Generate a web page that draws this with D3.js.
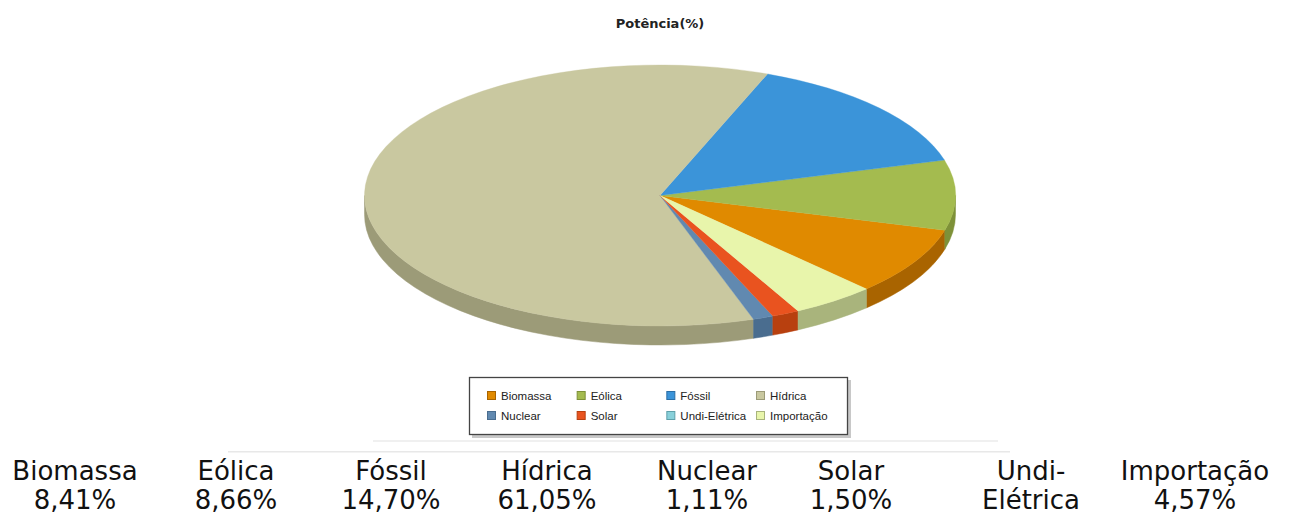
<!DOCTYPE html>
<html>
<head>
<meta charset="utf-8">
<script src="https://cdn.jsdelivr.net/npm/d3@7"></script>
<style>
  body { margin: 0; background: #fff; }
</style>
</head>
<body>
<svg id="svg"></svg>
<script>
var w = 1295;
var h = 513;

// data
var categories = ["Biomassa", "Eólica", "Fóssil", "Hídrica", "Nuclear", "Solar", "Undi-Elétrica", "Importação"];
var values = [8.41, 8.66, 14.70, 61.05, 1.11, 1.50, 0, 4.57];
var tableNames = [["Biomassa"], ["Eólica"], ["Fóssil"], ["Hídrica"], ["Nuclear"], ["Solar"], ["Undi-", "Elétrica"], ["Importação"]];
var topColors = ["#e08a00", "#a4bb4f", "#3b94d9", "#c9c8a0", "#6189b0", "#e9531f", "#88d0da", "#e8f5ab"];
var sideColors = ["#a96400", "#7e9138", "#2a6ea6", "#9c9b78", "#4a6d8f", "#b8400f", "#5fa0aa", "#a9b47c"];

var title = "Potência(%)";

// pie geometry
var cx = 660, cy = 195.5, rx = 295.5, ry = 130.5, depth = 19;
var start = 135.7 * Math.PI / 180;

var ptFmt = d3.formatLocale({decimal: ",", thousands: ".", grouping: [3], currency: ["", ""]}).format(".2f");

var svg = d3.select("#svg")
    .attr("width", w)
    .attr("height", h)
    .style("font-family", "'DejaVu Sans', sans-serif");

svg.append("text")
    .attr("x", 660)
    .attr("y", 28)
    .attr("text-anchor", "middle")
    .style("font-size", "13px")
    .style("font-weight", "bold")
    .attr("fill", "#222")
    .text(title);

var pie = d3.pie().sort(null).value(function(d) { return d; })
    .startAngle(start).endAngle(start - 2 * Math.PI);
var slices = pie(values);

var P = function(t, dy) {
    return [cx + rx * Math.sin(t), cy - ry * Math.cos(t) + (dy || 0)];
}

// outer wall, only the front half shows
var wallPath = function(d) {
    var a = Math.min(d.startAngle, d.endAngle), b = Math.max(d.startAngle, d.endAngle);
    var out = "";
    for (var k = -1; k <= 1; k++) {
        var lo = Math.max(a, Math.PI / 2 + 2 * Math.PI * k);
        var hi = Math.min(b, 3 * Math.PI / 2 + 2 * Math.PI * k);
        if (hi - lo <= 0) continue;
        var large = (hi - lo) > Math.PI ? 1 : 0;
        var p0 = P(lo), p1 = P(hi), q1 = P(hi, depth), q0 = P(lo, depth);
        out += "M" + p0 + "A" + [rx, ry, 0, large, 1] + " " + p1 +
               "L" + q1 + "A" + [rx, ry, 0, large, 0] + " " + q0 + "Z";
    }
    return out;
}

var chart = svg.append("g").attr("class", "pie");

chart.selectAll("path.wall")
    .data(slices)
    .enter().append("path")
    .attr("class", "wall")
    .attr("d", wallPath)
    .attr("fill", function(d, i) { return sideColors[i]; })
    .attr("stroke", function(d, i) { return sideColors[i]; })
    .attr("stroke-width", 0.5);

var arc = d3.arc().innerRadius(0).outerRadius(rx);

chart.append("g")
    .attr("transform", "translate(" + [cx, cy] + ")scale(1," + (ry / rx) + ")")
    .selectAll("path.top")
    .data(slices)
    .enter().append("path")
    .attr("class", "top")
    .attr("d", arc)
    .attr("fill", function(d, i) { return topColors[i]; })
    .attr("stroke", function(d, i) { return d.value > 0 ? topColors[i] : "none"; })
    .attr("stroke-width", 0.5);

// legend
var lg = svg.append("g").attr("class", "legend");
lg.append("rect")
    .attr("x", 472).attr("y", 380).attr("width", 379).attr("height", 58)
    .attr("fill", "#c8c8c8");
lg.append("rect")
    .attr("x", 469.5).attr("y", 377.5).attr("width", 378).attr("height", 57)
    .attr("fill", "#fff").attr("stroke", "#444").attr("stroke-width", 1.3);

var lx = d3.scalePoint().domain([0, 1, 2, 3]).range([487, 756]);
var ly = d3.scalePoint().domain([0, 1]).range([391, 411]);

var items = lg.selectAll("g.item")
    .data(categories)
    .enter().append("g")
    .attr("class", "item")
    .attr("transform", function(d, i) { return "translate(" + [lx(i % 4), ly(Math.floor(i / 4))] + ")"; });

items.append("rect")
    .attr("x", 0.5).attr("y", 0.5).attr("width", 8).attr("height", 8)
    .attr("fill", function(d, i) { return topColors[i]; })
    .attr("stroke", function(d, i) { return sideColors[i]; });

items.append("text")
    .attr("x", 14).attr("y", 8.5)
    .style("font-family", "'Liberation Sans', Arial, sans-serif")
    .style("font-size", "11.5px")
    .attr("fill", "#222")
    .text(function(d) { return d; });

// faint separator lines
svg.append("rect").attr("x", 373).attr("y", 440).attr("width", 625).attr("height", 2).attr("fill", "#f0f0f0");
svg.append("rect").attr("x", 228).attr("y", 451).attr("width", 782).attr("height", 1.5).attr("fill", "#e8e8e8");

// table underneath
var colX = d3.scaleOrdinal().domain(categories).range([75, 236, 391, 547, 707, 851, 1031, 1195]);

var cells = svg.selectAll("text.cell")
    .data(categories)
    .enter().append("text")
    .attr("class", "cell")
    .attr("text-anchor", "middle")
    .attr("x", function(d) { return colX(d); })
    .attr("y", 480)
    .style("font-size", "26px")
    .attr("fill", "#111");

cells.each(function(d, i) {
    var lines = tableNames[i].slice();
    if (values[i] > 0) lines.push(ptFmt(values[i]) + "%");
    d3.select(this).selectAll("tspan")
        .data(lines)
        .enter().append("tspan")
        .attr("x", colX(d))
        .attr("dy", function(l, j) { return j == 0 ? 0 : 28.5; })
        .text(function(l) { return l; });
});
</script>
</body>
</html>
